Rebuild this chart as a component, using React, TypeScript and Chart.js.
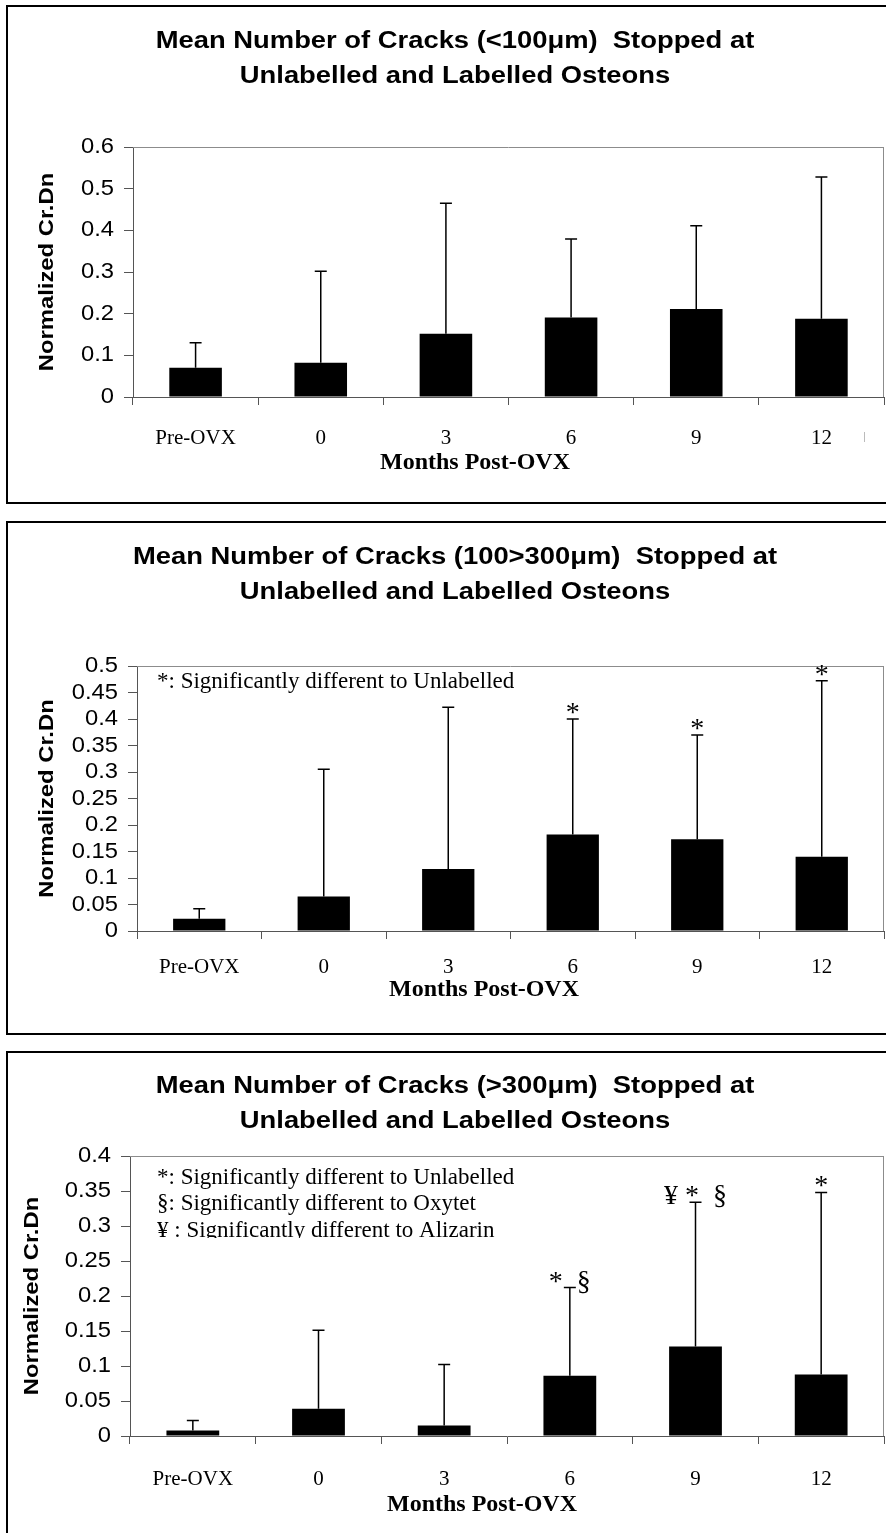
import React, { useEffect, useRef } from "react";
import { Chart, registerables } from "chart.js";

Chart.register(...registerables);

const SANS = "'Liberation Sans', Arial, Helvetica, sans-serif";
const SERIF = "'Liberation Serif', 'Times New Roman', Times, serif";

const categories = ["Pre-OVX", "0", "3", "6", "9", "12"];
const yTitle = "Normalized Cr.Dn";
const xTitle = "Months Post-OVX";

// Panel 1: cracks < 100 um
const title1 = ["Mean Number of Cracks (<100\u03bcm)  Stopped at", "Unlabelled and Labelled Osteons"];
const means1 = [0.070, 0.082, 0.152, 0.191, 0.211, 0.188];
const sd1 = [0.060, 0.220, 0.313, 0.188, 0.200, 0.340];
const yTicks1 = [0, 0.1, 0.2, 0.3, 0.4, 0.5, 0.6];
const markers1 = ["", "", "", "", "", ""];
const notes1: string[] = [];

// Panel 2: cracks 100-300 um
const title2 = ["Mean Number of Cracks (100>300\u03bcm)  Stopped at", "Unlabelled and Labelled Osteons"];
const means2 = [0.023, 0.065, 0.117, 0.182, 0.173, 0.140];
const sd2 = [0.019, 0.240, 0.305, 0.218, 0.197, 0.332];
const yTicks2 = [0, 0.05, 0.1, 0.15, 0.2, 0.25, 0.3, 0.35, 0.4, 0.45, 0.5];
const markers2 = ["", "", "", "*", "*", "*"];
const notes2 = ["*: Significantly different to Unlabelled"];

// Panel 3: cracks > 300 um
const title3 = ["Mean Number of Cracks (>300\u03bcm)  Stopped at", "Unlabelled and Labelled Osteons"];
const means3 = [0.008, 0.039, 0.015, 0.086, 0.128, 0.088];
const sd3 = [0.014, 0.112, 0.087, 0.126, 0.206, 0.260];
const yTicks3 = [0, 0.05, 0.1, 0.15, 0.2, 0.25, 0.3, 0.35, 0.4];
const markers3 = ["", "", "", "*  \u00a7", "\u00a5 *  \u00a7", "*"];
const notes3 = [
  "*: Significantly different to Unlabelled",
  "\u00a7: Significantly different to Oxytet",
  "\u00a5 : Significantly different to Alizarin",
];

type Spec = {
  top: number;
  h: number;
  chartTop: number;
  chartBottom: number;
  chartLeft: number;
  titleY: number[];
  yTitleX: number;
  xPad: number;
  xTitleX: number;
  xTitleY: number;
  noteX: number;
  noteY: number[];
  noteClip?: number;
  title: string[];
  means: number[];
  sd: number[];
  ticks: number[];
  markers: string[];
  notes: string[];
  artifact?: boolean;
};

const specs: Spec[] = [
  {
    top: 0, h: 512, chartTop: 147, chartBottom: 397, chartLeft: 133,
    titleY: [42, 77], yTitleX: 47, xPad: 21, xTitleX: 475, xTitleY: 463,
    noteX: 157, noteY: [],
    title: title1, means: means1, sd: sd1, ticks: yTicks1, markers: markers1, notes: notes1,
    artifact: true,
  },
  {
    top: 512, h: 528, chartTop: 666, chartBottom: 931, chartLeft: 137,
    titleY: [558, 593], yTitleX: 47, xPad: 16, xTitleX: 484, xTitleY: 990,
    noteX: 157, noteY: [688],
    title: title2, means: means2, sd: sd2, ticks: yTicks2, markers: markers2, notes: notes2,
  },
  {
    top: 1040, h: 493, chartTop: 1156, chartBottom: 1436, chartLeft: 130,
    titleY: [1087, 1122], yTitleX: 32, xPad: 23, xTitleX: 482, xTitleY: 1505,
    noteX: 157, noteY: [1184, 1210, 1237], noteClip: 1238,
    title: title3, means: means3, sd: sd3, ticks: yTicks3, markers: markers3, notes: notes3,
  },
];

function drawText(
  ctx: CanvasRenderingContext2D,
  text: string,
  x: number,
  y: number,
  font: string,
  align: CanvasTextAlign,
  baseline: CanvasTextBaseline,
  sx = 1,
  rotate = 0
) {
  ctx.save();
  ctx.font = font;
  ctx.fillStyle = "#000";
  ctx.textAlign = align;
  ctx.textBaseline = baseline;
  ctx.translate(x, y);
  if (rotate) ctx.rotate(rotate);
  ctx.scale(sx, 1);
  ctx.fillText(text, 0, 0);
  ctx.restore();
}

function makeOverlay(spec: Spec) {
  return {
    id: "overlay",
    afterDraw(chart: any) {
      const ctx: CanvasRenderingContext2D = chart.ctx;
      const a = chart.chartArea;
      const xs = chart.scales.x;
      const ys = chart.scales.y;
      const off = spec.top;
      const SX = 1.19;

      // plot frame (top & right)
      ctx.save();
      ctx.strokeStyle = "#8c8c8c";
      ctx.lineWidth = 1;
      ctx.beginPath();
      ctx.moveTo(a.left, a.top + 0.5);
      ctx.lineTo(a.right, a.top + 0.5);
      ctx.moveTo(a.right - 0.5, a.top);
      ctx.lineTo(a.right - 0.5, a.bottom);
      ctx.stroke();
      ctx.restore();

      // error bars + markers
      ctx.save();
      ctx.strokeStyle = "#000";
      ctx.lineWidth = 1.5;
      spec.means.forEach((m, i) => {
        const px = xs.getPixelForValue(i);
        const y0 = ys.getPixelForValue(m);
        const y1 = ys.getPixelForValue(m + spec.sd[i]);
        ctx.beginPath();
        ctx.moveTo(px, y0);
        ctx.lineTo(px, y1);
        ctx.moveTo(px - 6, y1);
        ctx.lineTo(px + 6, y1);
        ctx.stroke();
        const mk = spec.markers[i];
        if (mk) drawText(ctx, mk, px, y1 + 2, `28px ${SERIF}`, "center", "alphabetic");
      });
      ctx.restore();

      // notes
      if (spec.notes.length) {
        ctx.save();
        if (spec.noteClip) {
          ctx.beginPath();
          ctx.rect(a.left, a.top, a.right - a.left, spec.noteClip - off - a.top);
          ctx.clip();
        }
        spec.notes.forEach((n, i) => {
          drawText(ctx, n, spec.noteX, spec.noteY[i] - off, `23px ${SERIF}`, "left", "alphabetic");
        });
        ctx.restore();
      }

      // titles
      spec.title.forEach((t, i) => {
        drawText(ctx, t, 455, spec.titleY[i] - off, `bold 23px ${SANS}`, "center", "middle", SX);
      });

      // y tick labels
      ys.ticks.forEach((t: any) => {
        const lbl = String(t.value);
        drawText(ctx, lbl, a.left - 19, ys.getPixelForValue(t.value), `22px ${SANS}`, "right", "middle", 1.08);
      });

      // y axis title
      drawText(ctx, yTitle, spec.yTitleX, (a.top + a.bottom) / 2, `bold 20px ${SANS}`, "center", "middle", SX, -Math.PI / 2);

      // x axis title
      drawText(ctx, xTitle, spec.xTitleX, spec.xTitleY - off, `bold 24px ${SERIF}`, "center", "middle");

      if (spec.artifact) {
        ctx.save();
        ctx.strokeStyle = "#bbbbbb";
        ctx.lineWidth = 1;
        ctx.beginPath();
        ctx.moveTo(864.5, 432 - off);
        ctx.lineTo(864.5, 442 - off);
        ctx.stroke();
        ctx.restore();
      }
    },
  };
}

function PanelChart({ spec }: { spec: Spec }) {
  const ref = useRef<HTMLCanvasElement>(null);
  useEffect(() => {
    const canvas = ref.current!;
    const axisColor = "#555555";
    const chart = new Chart(canvas, {
      type: "bar",
      data: {
        labels: categories,
        datasets: [
          {
            data: spec.means,
            backgroundColor: "#000000",
            borderWidth: 0,
            barPercentage: 0.42,
            categoryPercentage: 1,
          },
        ],
      },
      options: {
        animation: false,
        responsive: false,
        devicePixelRatio: 1,
        layout: { padding: { top: spec.chartTop - spec.top, left: 0, right: 2, bottom: 0 } },
        plugins: { legend: { display: false }, tooltip: { enabled: false }, title: { display: false } },
        scales: {
          x: {
            type: "category",
            offset: true,
            grid: { display: true, drawOnChartArea: false, drawTicks: true, tickLength: 8, color: axisColor, offset: true },
            border: { display: true, color: axisColor, width: 1 },
            ticks: { color: "#000", font: { family: SERIF, size: 21 }, padding: spec.xPad, maxRotation: 0, autoSkip: false },
            afterFit: (s: any) => {
              s.height = spec.top + spec.h - spec.chartBottom;
            },
          },
          y: {
            min: 0,
            max: spec.ticks[spec.ticks.length - 1],
            afterBuildTicks: (s: any) => {
              s.ticks = spec.ticks.map((v) => ({ value: v }));
            },
            grid: { drawOnChartArea: false, drawTicks: true, tickLength: 9, color: axisColor },
            border: { display: true, color: axisColor, width: 1 },
            ticks: { display: false },
            afterFit: (s: any) => {
              s.width = spec.chartLeft;
            },
          },
        },
      },
      plugins: [makeOverlay(spec)],
    } as any);
    return () => chart.destroy();
  }, [spec]);
  return (
    <canvas
      ref={ref}
      width={886}
      height={spec.h}
      style={{ position: "absolute", left: 0, top: spec.top, width: 886, height: spec.h }}
    />
  );
}

const boxes = [
  { top: 5, height: 499 },
  { top: 521, height: 514 },
  { top: 1051, height: 600 },
];

export default function App() {
  return (
    <div
      style={{
        position: "absolute",
        left: 0,
        top: 0,
        width: 886,
        height: 1533,
        overflow: "hidden",
        background: "#fff",
      }}
    >
      {boxes.map((b, i) => (
        <div
          key={i}
          style={{
            position: "absolute",
            left: 6,
            top: b.top,
            width: 900,
            height: b.height,
            border: "2px solid #000",
            boxSizing: "border-box",
          }}
        />
      ))}
      {specs.map((s, i) => (
        <PanelChart key={i} spec={s} />
      ))}
    </div>
  );
}
